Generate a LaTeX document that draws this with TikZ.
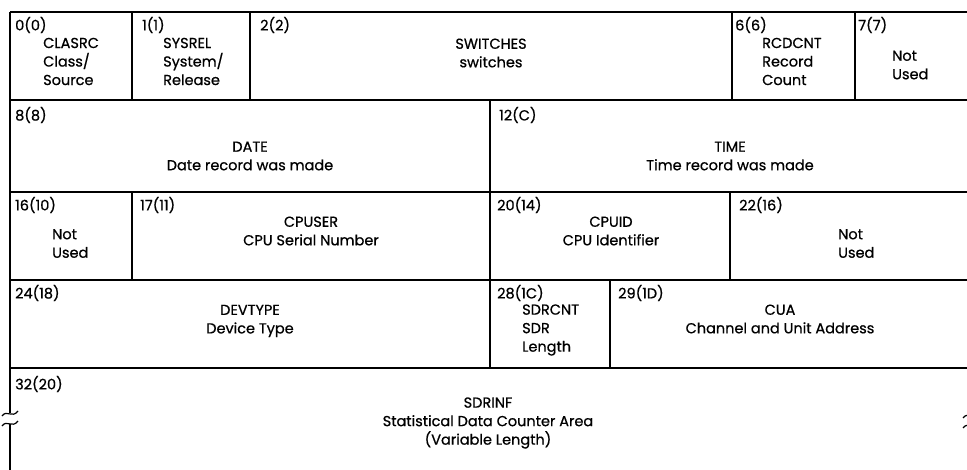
\documentclass[tikz,border=0pt]{standalone}
\usepackage{fontspec}
\setmainfont{Poppins}[FakeBold=0.7]

\begin{document}
\begin{tikzpicture}[
  x=1pt, y=-1pt,
  every node/.style={font=\fontsize{14.5}{18.5}\selectfont, inner sep=0pt},
  offs/.style={anchor=west},
  fld/.style={align=center},
  lst/.style={anchor=west, align=left},
  rule/.style={line width=1.6pt},
  edge/.style={line width=2.6pt},
  brk/.style={line width=1.2pt}
]
\useasboundingbox (0,0) rectangle (967,470);

% Grid — horizontal rules
\foreach \y in {12,100,192,280,368}
  \draw[rule] (10,\y) -- (967,\y);

% Grid — vertical rules
\foreach \x in {132,250,732,855}
  \draw[rule] (\x,12) -- (\x,100);
\draw[rule] (490,100) -- (490,192);
\foreach \x in {132,490,730}
  \draw[rule] (\x,192) -- (\x,280);
\foreach \x in {490,610}
  \draw[rule] (\x,280) -- (\x,368);

% Left edge with break mark
\draw[edge] (10,12) -- (10,413);
\draw[edge] (10,424) -- (10,470);
\draw[brk] (2,416) .. controls (7,409) and (12,419) .. (18,411);
\draw[brk] (2,426) .. controls (7,419) and (12,429) .. (18,421);
% break mark at the right edge (cut off)
\draw[brk] (963,418) .. controls (968,411) and (973,421) .. (979,413);
\draw[brk] (963,428) .. controls (968,421) and (973,431) .. (979,423);

% Row 1 — offsets 0..7
\node[offs] (o0) at (15,25) {0(0)};
\node[lst] (clasrc) at (43,61.5) {CLASRC\\Class/\\Source};
\node[offs] (o1) at (142,25) {1(1)};
\node[lst] (sysrel) at (163,61.5) {SYSREL\\System/\\Release};
\node[offs] (o2) at (260,25) {2(2)};
\node[fld] (switches) at (491,53) {SWITCHES\\switches};
\node[offs] (o6) at (735,25) {6(6)};
\node[lst] (rcdcnt) at (762,61.5) {RCDCNT\\Record\\Count};
\node[offs] (o7) at (858,25) {7(7)};
\node[lst] (nu7) at (892,65) {Not\\Used};

% Row 2 — offsets 8..15
\node[offs] (o8) at (15,115) {8(8)};
\node[fld] (date) at (250,156) {DATE\\Date record was made};
\node[offs] (o12) at (499,115) {12(C)};
\node[fld] (time) at (730,156) {TIME\\Time record was made};

% Row 3 — offsets 16..23
\node[offs] (o16) at (15,205) {16(10)};
\node[lst] (nu16) at (52,243.5) {Not\\Used};
\node[offs] (o17) at (140,205) {17(11)};
\node[fld] (cpuser) at (311,231) {CPUSER\\CPU Serial Number};
\node[offs] (o20) at (497,205) {20(14)};
\node[fld] (cpuid) at (611,231) {CPUID\\CPU Identifier};
\node[offs] (o22) at (739,205) {22(16)};
\node[lst] (nu22) at (838,243.5) {Not\\Used};

% Row 4 — offsets 24..31
\node[offs] (o24) at (15,293) {24(18)};
\node[fld] (devtype) at (250,321) {DEVTYPE\\Device Type};
\node[offs] (o28) at (497,293) {28(1C)};
\node[lst] (sdrcnt) at (522,330) {SDRCNT\\SDR\\Length};
\node[offs] (o29) at (618,293) {29(1D)};
\node[fld] (cua) at (780,319) {CUA\\Channel and Unit Address};

% Row 5 — offset 32 onwards
\node[offs] (o32) at (15,384) {32(20)};
\node[fld] (sdrinf) at (488,423) {SDRINF\\Statistical Data Counter Area\\(Variable Length)};

\end{tikzpicture}
\end{document}
